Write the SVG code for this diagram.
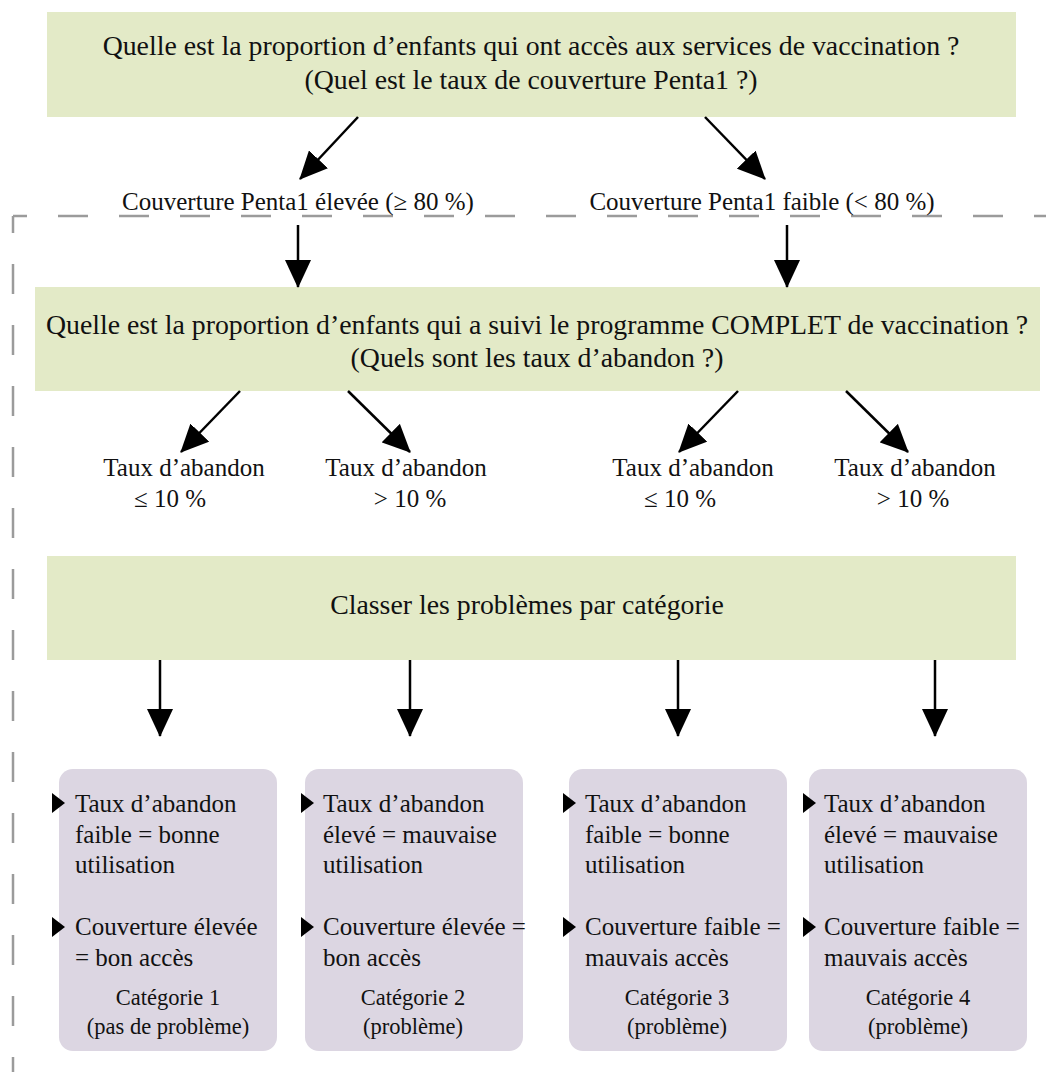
<svg xmlns="http://www.w3.org/2000/svg" width="1046" height="1072" viewBox="0 0 1046 1072">
<defs>
<marker id="ah" markerUnits="userSpaceOnUse" markerWidth="28" markerHeight="26" viewBox="0 0 28 26" refX="27" refY="13" orient="auto">
<path d="M0,0 L28,13 L0,26 Z" fill="#000"/>
</marker>
<path id="bullet" d="M0,0 L13,10 L0,20 Z" fill="#000"/>
</defs>
<style>
text{font-family:"Liberation Serif","DejaVu Serif",serif;fill:#111;}
.t{font-size:27.8px;}
.m{font-size:25px;}
.b{font-size:25px;}
.c{font-size:22.5px;}
.green{fill:#e3eac7;}
.card{fill:#dcd6e2;}
.conn{stroke:#000;stroke-width:2.5;fill:none;marker-end:url(#ah);}
.dash{stroke:#9b9b9b;stroke-width:2.5;fill:none;stroke-dasharray:30 31;}
</style>
<rect width="1046" height="1072" fill="#fff"/>
<g id="frame">
<path class="dash" d="M13,216 H1046" stroke-dashoffset="16"/>
<path class="dash" d="M13,216 V1072" stroke-dashoffset="13"/>
</g>
<g id="q1">
<rect class="green" x="47" y="12" width="969" height="105"/>
<text class="t" x="531" y="55" text-anchor="middle">Quelle est la proportion d’enfants qui ont accès aux services de vaccination ?</text>
<text class="t" x="531" y="89" text-anchor="middle">(Quel est le taux de couverture Penta1 ?)</text>
</g>
<g id="high">
<text class="m" x="298" y="210" text-anchor="middle">Couverture Penta1 élevée (≥ 80 %)</text>
</g>
<g id="low">
<text class="m" x="762" y="210" text-anchor="middle">Couverture Penta1 faible (&lt; 80 %)</text>
</g>
<g id="q2">
<rect class="green" x="35" y="287" width="1005" height="104"/>
<text class="t" x="537" y="334" text-anchor="middle">Quelle est la proportion d’enfants qui a suivi le programme COMPLET de vaccination ?</text>
<text class="t" x="537" y="367" text-anchor="middle">(Quels sont les taux d’abandon ?)</text>
</g>
<g id="d1">
<text class="m" x="184" y="476" text-anchor="middle">Taux d’abandon</text>
<text class="m" x="170" y="507" text-anchor="middle">≤ 10 %</text>
</g>
<g id="d2">
<text class="m" x="406" y="476" text-anchor="middle">Taux d’abandon</text>
<text class="m" x="410" y="507" text-anchor="middle">&gt; 10 %</text>
</g>
<g id="d3">
<text class="m" x="693" y="476" text-anchor="middle">Taux d’abandon</text>
<text class="m" x="680" y="507" text-anchor="middle">≤ 10 %</text>
</g>
<g id="d4">
<text class="m" x="915" y="476" text-anchor="middle">Taux d’abandon</text>
<text class="m" x="913" y="507" text-anchor="middle">&gt; 10 %</text>
</g>
<g id="classify">
<rect class="green" x="47" y="556" width="969" height="104"/>
<text class="t" x="527" y="614" text-anchor="middle">Classer les problèmes par catégorie</text>
</g>
<g id="cat1">
<rect class="card" x="59" y="769" width="218" height="282" rx="14"/>
<use href="#bullet" x="52" y="793"/>
<use href="#bullet" x="52" y="917"/>
<text class="b" x="75" y="812">Taux d’abandon</text>
<text class="b" x="75" y="843">faible = bonne</text>
<text class="b" x="75" y="873">utilisation</text>
<text class="b" x="75" y="935">Couverture élevée</text>
<text class="b" x="75" y="966">= bon accès</text>
<text class="c" x="168" y="1005" text-anchor="middle">Catégorie 1</text>
<text class="c" x="168" y="1034" text-anchor="middle">(pas de problème)</text>
</g>
<g id="cat2">
<rect class="card" x="305" y="769" width="218" height="282" rx="14"/>
<use href="#bullet" x="301" y="793"/>
<use href="#bullet" x="301" y="917"/>
<text class="b" x="323" y="812">Taux d’abandon</text>
<text class="b" x="323" y="843">élevé = mauvaise</text>
<text class="b" x="323" y="873">utilisation</text>
<text class="b" x="323" y="935">Couverture élevée =</text>
<text class="b" x="323" y="966">bon accès</text>
<text class="c" x="413" y="1005" text-anchor="middle">Catégorie 2</text>
<text class="c" x="413" y="1034" text-anchor="middle">(problème)</text>
</g>
<g id="cat3">
<rect class="card" x="569" y="769" width="218" height="282" rx="14"/>
<use href="#bullet" x="563" y="793"/>
<use href="#bullet" x="563" y="917"/>
<text class="b" x="585" y="812">Taux d’abandon</text>
<text class="b" x="585" y="843">faible = bonne</text>
<text class="b" x="585" y="873">utilisation</text>
<text class="b" x="585" y="935">Couverture faible =</text>
<text class="b" x="585" y="966">mauvais accès</text>
<text class="c" x="677" y="1005" text-anchor="middle">Catégorie 3</text>
<text class="c" x="677" y="1034" text-anchor="middle">(problème)</text>
</g>
<g id="cat4">
<rect class="card" x="809" y="769" width="218" height="282" rx="14"/>
<use href="#bullet" x="803" y="793"/>
<use href="#bullet" x="803" y="917"/>
<text class="b" x="824" y="812">Taux d’abandon</text>
<text class="b" x="824" y="843">élevé = mauvaise</text>
<text class="b" x="824" y="873">utilisation</text>
<text class="b" x="824" y="935">Couverture faible =</text>
<text class="b" x="824" y="966">mauvais accès</text>
<text class="c" x="918" y="1005" text-anchor="middle">Catégorie 4</text>
<text class="c" x="918" y="1034" text-anchor="middle">(problème)</text>
</g>
<g id="connectors">
<line class="conn" x1="358" y1="117" x2="300" y2="179"/>
<line class="conn" x1="705" y1="117" x2="765" y2="179"/>
<line class="conn" x1="298" y1="225" x2="298" y2="287"/>
<line class="conn" x1="787" y1="225" x2="787" y2="287"/>
<line class="conn" x1="240" y1="391" x2="181" y2="452"/>
<line class="conn" x1="348" y1="391" x2="410" y2="452"/>
<line class="conn" x1="738" y1="391" x2="679" y2="452"/>
<line class="conn" x1="846" y1="391" x2="908" y2="452"/>
<line class="conn" x1="160" y1="660" x2="160" y2="736"/>
<line class="conn" x1="410" y1="660" x2="410" y2="736"/>
<line class="conn" x1="678" y1="660" x2="678" y2="736"/>
<line class="conn" x1="935" y1="660" x2="935" y2="736"/>
</g>
</svg>
